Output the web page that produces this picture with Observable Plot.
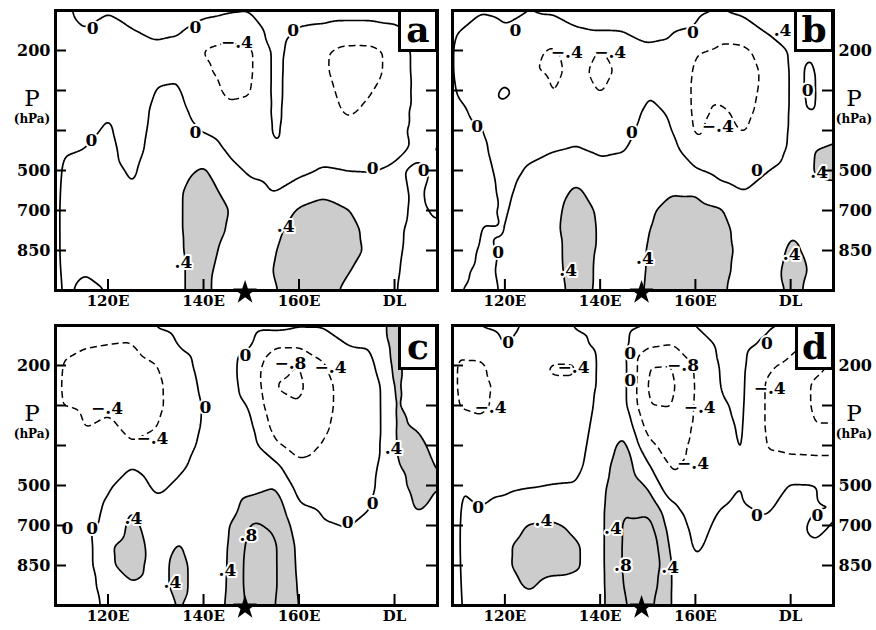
<!DOCTYPE html>
<html><head><meta charset="utf-8">
<script src="https://cdn.jsdelivr.net/npm/d3@7"></script>
<script src="https://cdn.jsdelivr.net/npm/@observablehq/plot@0.6"></script>
<style>
body{margin:0;background:#fff;}
#fig{position:relative;width:876px;height:630px;overflow:hidden;background:#fff;}
#fig svg.p{position:absolute;}
.tag{position:absolute;box-sizing:border-box;border:3px solid #000;background:#fff;font:bold 36px "DejaVu Serif",serif;display:flex;align-items:center;justify-content:center;line-height:1;padding-bottom:3px;}
.plab{position:absolute;width:60px;text-align:center;color:#000;}
.plab .P{font:23px/23px "DejaVu Serif",serif;display:block;}
.plab .u{font:bold 12px/14px "DejaVu Serif",serif;display:block;margin-top:2px;}
</style></head>
<body>
<svg width="0" height="0" style="position:absolute"><defs>
<pattern id="stip" width="2" height="2" patternUnits="userSpaceOnUse">
<rect width="2" height="2" fill="#e0e0e0"/><rect x="0" y="0" width="1" height="1" fill="#b0b0b0"/><rect x="1" y="1" width="1" height="1" fill="#c0c0c0"/>
</pattern></defs></svg>
<div id="fig"></div>
<script>
// grid columns (longitude, degrees E; 180 = dateline)
const lons = [110,115,120,125,130,135,140,145,150,155,160,165,170,175,180,185,190];
// grid rows in level steps: 0 = 100 hPa, 1 = 200, 2 = 300, 3 = 400, 4 = 500, 5 = 700, 6 = 850, 7 = 1000
const levels = [0,0.5,1,1.5,2,2.5,3,3.5,4,4.5,5,5.5,6,6.5,7];
const yTickPos = [1,2,3,4,5,6];
const yTickText = ["200","","","500","700","850"];
const xTickPos = [120,140,160,180];
const xTickText = ["120E","140E","160E","DL"];
const star = [{lon:148.7, lev:7}];

// values per longitude column, top (100 hPa) to bottom (1000 hPa)
const panelA = [
[-0.1,-0.15,-0.2,-0.2,-0.2,-0.2,-0.15,-0.05,0.08,0.15,0.2,0.2,0.2,0.15,0.1],
[0.1,-0.01,-0.15,-0.2,-0.2,-0.2,-0.1,0.01,0.1,0.15,0.2,0.2,0.15,0.02,-0.08],
[0.02,-0.1,-0.15,-0.15,-0.1,-0.03,0.05,0.1,0.12,0.15,0.2,0.2,0.15,0.05,0.01],
[0.1,-0.01,-0.1,-0.15,-0.2,-0.2,-0.2,-0.15,-0.05,0.02,0.1,0.15,0.2,0.2,0.2],
[0.15,0.05,-0.05,-0.05,0.01,0.08,0.12,0.15,0.18,0.2,0.22,0.22,0.2,0.2,0.2],
[0.15,0.02,-0.06,-0.03,0.02,0.08,0.15,0.2,0.3,0.37,0.37,0.37,0.37,0.37,0.37],
[0.1,-0.15,-0.42,-0.35,-0.25,-0.15,-0.02,0.2,0.45,0.55,0.6,0.6,0.55,0.5,0.5],
[0.05,-0.25,-0.5,-0.5,-0.45,-0.35,-0.15,-0.03,0.1,0.3,0.42,0.38,0.3,0.25,0.2],
[0.03,-0.15,-0.45,-0.45,-0.42,-0.33,-0.25,-0.18,-0.05,0.08,0.15,0.2,0.22,0.22,0.2],
[0.15,0.12,0.1,0.1,0.1,0.08,0.05,-0.02,-0.08,-0.02,0.15,0.3,0.38,0.42,0.38],
[0.1,-0.02,-0.15,-0.2,-0.22,-0.22,-0.2,-0.15,-0.08,0.15,0.45,0.6,0.65,0.6,0.55],
[0.1,-0.05,-0.35,-0.35,-0.3,-0.22,-0.15,-0.08,0.02,0.3,0.55,0.65,0.65,0.6,0.5],
[0.1,-0.1,-0.5,-0.55,-0.5,-0.45,-0.3,-0.15,-0.01,0.2,0.42,0.5,0.5,0.42,0.35],
[0.1,-0.1,-0.5,-0.5,-0.42,-0.35,-0.22,-0.12,-0.02,0.15,0.25,0.32,0.35,0.3,0.25],
[0.1,-0.05,-0.3,-0.3,-0.25,-0.15,-0.08,-0.04,0.03,0.04,0.05,0.05,0.05,0.03,0.01],
[0.1,0.05,0.15,0.15,0.12,0.1,0.08,0.04,-0.04,-0.03,-0.04,-0.08,-0.1,-0.1,-0.08],
[0.1,0.05,0.1,0.1,0.1,0.08,0.05,-0.03,0.05,0.1,0.05,-0.05,-0.1,-0.1,-0.1]
];
const panelB = [
[0.05,0.02,-0.1,-0.1,-0.02,0.06,0.1,0.15,0.25,0.35,0.42,0.35,0.2,0.08,0.02],
[0.02,-0.1,-0.2,-0.2,-0.15,-0.08,0.01,0.06,0.1,0.1,0.05,-0.02,-0.05,-0.07,-0.08],
[0.05,-0.02,-0.15,-0.1,0.05,-0.05,-0.15,-0.15,-0.1,-0.06,-0.03,-0.01,0.03,0.05,0.03],
[0.01,-0.15,-0.3,-0.35,-0.1,-0.25,-0.15,-0.06,0.03,0.1,0.15,0.2,0.22,0.22,0.2],
[0.05,-0.2,-0.45,-0.48,-0.42,-0.3,-0.15,-0.01,0.12,0.25,0.3,0.33,0.33,0.32,0.3],
[0.1,-0.02,-0.25,-0.3,-0.25,-0.2,-0.08,0.03,0.25,0.45,0.55,0.55,0.5,0.5,0.48],
[0.12,0.02,-0.42,-0.5,-0.42,-0.3,-0.18,-0.05,0.1,0.25,0.35,0.37,0.37,0.36,0.36],
[0.12,0.03,-0.25,-0.32,-0.28,-0.15,-0.08,-0.01,0.08,0.15,0.2,0.25,0.25,0.28,0.3],
[0.15,0.05,-0.03,-0.05,-0.02,0.05,0.1,0.15,0.2,0.28,0.35,0.38,0.41,0.41,0.42],
[0.15,0.03,-0.05,-0.08,-0.06,-0.03,0.02,0.15,0.28,0.37,0.5,0.6,0.62,0.62,0.6],
[0.08,-0.03,-0.38,-0.45,-0.48,-0.48,-0.45,-0.3,0.05,0.35,0.55,0.62,0.62,0.62,0.6],
[0.01,-0.3,-0.45,-0.5,-0.48,-0.36,-0.3,-0.25,-0.1,0.1,0.45,0.55,0.55,0.5,0.45],
[0.1,-0.25,-0.45,-0.5,-0.48,-0.46,-0.42,-0.3,-0.15,-0.01,0.15,0.25,0.3,0.3,0.3],
[0.45,0.05,-0.3,-0.35,-0.35,-0.33,-0.28,-0.15,-0.01,0.1,0.15,0.2,0.22,0.25,0.25],
[0.3,0.15,0.05,0.04,0.04,0.04,0.04,0.05,0.1,0.2,0.3,0.38,0.45,0.5,0.45],
[0.3,0.15,0.02,-0.03,-0.03,-0.02,0.15,0.41,0.42,0.3,0.25,0.3,0.33,0.36,0.35],
[0.3,0.25,0.35,0.45,0.3,0.25,0.35,0.5,0.5,0.3,0.2,0.2,0.2,0.2,0.2]
];
const panelC = [
[-0.2,-0.3,-0.42,-0.45,-0.41,0.01,0.03,0.03,0.03,0.03,0.03,0.03,0.03,0.03,0.03],
[-0.25,-0.38,-0.5,-0.55,-0.5,-0.42,-0.3,-0.25,-0.2,-0.17,-0.15,-0.2,-0.2,-0.2,-0.2],
[-0.25,-0.41,-0.5,-0.52,-0.45,-0.35,-0.25,-0.15,-0.06,0.05,0.1,0.36,0.36,0.2,0.1],
[-0.3,-0.42,-0.55,-0.6,-0.55,-0.48,-0.38,-0.02,0.2,0.38,0.5,0.55,0.5,0.38,0.3],
[0.03,-0.2,-0.42,-0.5,-0.5,-0.42,-0.3,-0.2,-0.07,0.07,0.2,0.28,0.3,0.3,0.3],
[0.1,0.02,-0.12,-0.18,-0.2,-0.2,-0.15,-0.05,0.05,0.15,0.3,0.42,0.48,0.48,0.42],
[0.15,0.12,0.1,0.06,0.02,0.03,0.07,0.1,0.15,0.2,0.22,0.25,0.25,0.25,0.25],
[0.15,0.12,0.1,0.1,0.12,0.15,0.18,0.2,0.25,0.3,0.35,0.37,0.38,0.39,0.41],
[0.1,0.02,-0.15,-0.12,-0.03,0.05,0.12,0.2,0.3,0.5,0.85,0.95,1.0,1.0,0.95],
[0.12,-0.35,-0.7,-0.81,-0.72,-0.55,-0.35,0.1,0.38,0.6,0.75,0.85,0.85,0.85,0.82],
[0.05,-0.35,-0.82,-0.88,-0.78,-0.65,-0.5,-0.35,-0.15,0.02,0.2,0.3,0.32,0.35,0.38],
[0.05,-0.3,-0.42,-0.48,-0.48,-0.45,-0.38,-0.3,-0.2,-0.05,0.02,0.1,0.15,0.2,0.2],
[0.1,0.01,-0.25,-0.3,-0.3,-0.28,-0.25,-0.2,-0.15,-0.07,-0.01,0.05,0.1,0.15,0.15],
[0.2,0.02,-0.1,-0.3,-0.3,-0.3,-0.25,-0.15,-0.08,-0.01,0.05,0.1,0.12,0.12,0.12],
[0.5,0.5,0.48,0.45,0.43,0.42,0.41,0.37,0.3,0.2,0.15,0.15,0.15,0.15,0.15],
[0.2,0.2,0.2,0.25,0.3,0.38,0.45,0.5,0.5,0.45,0.3,0.2,0.15,0.15,0.15],
[0.15,0.15,0.15,0.15,0.2,0.25,0.3,0.35,0.38,0.3,0.2,0.15,0.15,0.15,0.15]
];
const panelD = [
[-0.2,-0.35,-0.45,-0.45,-0.41,-0.3,-0.2,-0.1,-0.01,0.06,0.1,0.1,0.08,0.05,0.02],
[0.03,-0.25,-0.45,-0.48,-0.45,-0.35,-0.25,-0.18,-0.1,-0.01,0.07,0.12,0.12,0.1,0.08],
[0.1,0.02,-0.2,-0.3,-0.32,-0.3,-0.25,-0.18,-0.08,0.08,0.25,0.36,0.37,0.35,0.25],
[-0.05,-0.2,-0.3,-0.32,-0.32,-0.3,-0.25,-0.18,-0.03,0.2,0.42,0.5,0.48,0.42,0.35],
[-0.1,-0.25,-0.42,-0.38,-0.3,-0.28,-0.22,-0.15,0.01,0.2,0.45,0.5,0.45,0.35,0.3],
[0.03,-0.1,-0.42,-0.38,-0.25,-0.2,-0.15,-0.1,0.02,0.15,0.35,0.42,0.42,0.35,0.3],
[0.1,0.1,0.08,0.08,0.1,0.15,0.2,0.25,0.28,0.3,0.3,0.3,0.3,0.3,0.3],
[0.1,0.1,0.12,0.12,0.12,0.3,0.5,0.6,0.7,0.78,0.85,0.85,0.85,0.82,0.78],
[0.02,-0.35,-0.8,-0.85,-0.8,-0.55,-0.3,0.05,0.35,0.65,0.95,1.15,1.25,1.1,0.95],
[-0.1,-0.42,-0.82,-0.88,-0.82,-0.65,-0.55,-0.45,-0.3,0.05,0.2,0.3,0.38,0.38,0.38],
[0.02,-0.2,-0.36,-0.38,-0.36,-0.35,-0.32,-0.3,-0.25,-0.18,-0.1,-0.05,0.03,0.1,0.15],
[0.05,0.04,0.02,0.01,-0.03,-0.06,-0.08,-0.08,-0.06,-0.01,0.05,0.1,0.15,0.2,0.2],
[0.1,0.08,0.06,0.05,0.04,0.03,0.02,0.01,0.005,0.02,0.08,0.12,0.15,0.18,0.2],
[0.05,-0.05,-0.35,-0.45,-0.45,-0.45,-0.42,-0.35,-0.25,-0.05,0.05,0.08,0.12,0.15,0.15],
[0.01,-0.3,-0.5,-0.55,-0.55,-0.52,-0.48,-0.3,0.03,0.1,0.12,0.12,0.12,0.12,0.12],
[-0.3,-0.5,-0.7,-0.85,-0.85,-0.8,-0.5,-0.3,0.02,0.02,-0.06,0.02,0.08,0.1,0.1],
[-0.3,-0.6,-0.9,-1.0,-0.95,-0.8,-0.5,-0.3,-0.15,0.01,0.03,0.05,0.08,0.1,0.1]
];

// contour labels: [lon, level step, text]
const labelsA = [[116.8,0.45,"0"],[138.3,0.43,"0"],[158.8,0.5,"0"],[147,0.8,"−.4"],[116.5,3.25,"0"],[138.3,3.05,"0"],[175.4,3.95,"0"],[186.1,4,"0"],[135.8,6.3,".4"],[157.2,5.4,".4"]];
const labelsB = [[122.2,0.5,"0"],[133,1.05,"−.4"],[142.1,1.05,"−.4"],[159.5,0.55,"0"],[178.3,0.5,".4"],[114.2,2.9,"0"],[146.7,3.05,"0"],[164.7,2.9,"−.4"],[183.6,2,"0"],[172.9,4,"0"],[186,4.05,".4"],[118.6,6.05,"0"],[133.3,6.5,".4"],[149.4,6.2,".4"],[180.2,6.1,".4"]];
const labelsC = [[119.8,2.08,"−.4"],[129.3,2.83,"−.4"],[140.4,2.04,"0"],[148.8,0.75,"0"],[158.2,0.96,"−.8"],[166.6,1.04,"−.4"],[179.8,3.08,".4"],[175.4,4.46,"0"],[170.2,4.92,"0"],[111.5,5.08,"0"],[116.7,5.08,"0"],[125.3,4.83,".4"],[133.5,6.42,".4"],[145,6.12,".4"],[149.4,5.25,".8"]];
const labelsD = [[120.7,0.42,"0"],[117,2.04,"−.4"],[134.4,1.04,"−.4"],[114.4,4.54,"0"],[128.1,4.88,".4"],[146.3,0.71,"0"],[146.3,1.38,"0"],[157.4,1,"−.8"],[160.9,2.04,"−.4"],[159.5,3.46,"−.4"],[175,0.46,"0"],[175.6,1.58,"−.4"],[172.9,4.75,"0"],[185.6,4.75,"0"],[142.7,5.08,".4"],[144.8,6,".8"],[154.7,6.04,".4"]];

function toPoints(cols) {
  const pts = [];
  cols.forEach((col, j) => col.forEach((v, i) => pts.push({lon: lons[j], lev: levels[i], v})));
  return pts;
}

function panel(cols, labels, side, W, H, mL, mR, mT, mB) {
  const pts = toPoints(cols);
  const fw = W - mL - mR, fh = H - mT - mB;
  const common = {x: "lon", y: "lev", value: "v", interpolate: "barycentric", pixelSize: 1, blur: 3};
  return Plot.plot({
    width: W, height: H, marginLeft: mL, marginRight: mR, marginTop: mT, marginBottom: mB,
    x: {domain: [109, 189]},
    y: {domain: [0, 7], reverse: true},
    style: {fontFamily: "DejaVu Serif", background: "transparent", color: "#000"},
    marks: [
      Plot.contour(pts, {...common, thresholds: [0.4], fill: "url(#stip)", stroke: "none"}),
      Plot.contour(pts, {...common, thresholds: [0, 0.4, 0.8, 1.2], fill: "none", stroke: "#000", strokeWidth: 1.7}),
      Plot.contour(pts, {...common, thresholds: [-1.2, -0.8, -0.4], fill: "none", stroke: "#000", strokeWidth: 1.5, strokeDasharray: "7,4"}),
      Plot.text(labels, {x: d => d[0], y: d => d[1], text: d => d[2], fontSize: 17, fontWeight: "bold", fill: "#000", stroke: "#fff", strokeWidth: 4}),
      Plot.tickX(xTickPos, {x: d => d, insetTop: fh - 11, stroke: "#000", strokeWidth: 2}),
      Plot.tickY(yTickPos, {y: d => d, insetRight: fw - 11, stroke: "#000", strokeWidth: 2}),
      Plot.tickY(yTickPos, {y: d => d, insetLeft: fw - 11, stroke: "#000", strokeWidth: 2}),
      Plot.frame({stroke: "#000", strokeWidth: 3}),
      Plot.axisX({ticks: xTickPos, tickFormat: d => xTickText[xTickPos.indexOf(d)], tickSize: 0, tickPadding: 5, fontSize: 15, fontWeight: "bold", label: null}),
      Plot.axisY({anchor: side, ticks: yTickPos, tickFormat: d => yTickText[yTickPos.indexOf(d)], tickSize: 0, tickPadding: 5, fontSize: 16, fontWeight: "bold", label: null}),
      Plot.dot(star, {x: "lon", y: "lev", symbol: "star", r: 7.5, fill: "#000", stroke: "none", dy: 2, clip: false})
    ]
  });
}

const fig = document.getElementById("fig");
const specs = [
  {cols: panelA, labels: labelsA, side: "left", left: 0, top: 0, W: 445, mL: 55, mR: 8},
  {cols: panelB, labels: labelsB, side: "right", left: 445, top: 0, W: 431, mL: 7, mR: 43},
  {cols: panelC, labels: labelsC, side: "left", left: 0, top: 315, W: 445, mL: 55, mR: 8},
  {cols: panelD, labels: labelsD, side: "right", left: 445, top: 315, W: 431, mL: 7, mR: 43}
];
for (const s of specs) {
  const svg = panel(s.cols, s.labels, s.side, s.W, 315, s.mL, s.mR, 10, 25);
  svg.classList.add("p");
  svg.style.left = s.left + "px";
  svg.style.top = s.top + "px";
  fig.appendChild(svg);
}
const tags = [["a", 398, 9, 40, 43], ["b", 794, 9, 40, 43], ["c", 398, 324, 40, 46], ["d", 795, 324, 39, 46]];
for (const [t, x, y, w, h] of tags) {
  const d = document.createElement("div");
  d.className = "tag"; d.textContent = t;
  Object.assign(d.style, {left: x + "px", top: y + "px", width: w + "px", height: h + "px"});
  fig.appendChild(d);
}
const plabs = [[2, 87], [824, 87], [2, 402], [824, 402]];
for (const [x, y] of plabs) {
  const d = document.createElement("div");
  d.className = "plab";
  Object.assign(d.style, {left: x + "px", top: y + "px"});
  d.innerHTML = '<span class="P">P</span><span class="u">(hPa)</span>';
  fig.appendChild(d);
}
</script>
</body></html>
